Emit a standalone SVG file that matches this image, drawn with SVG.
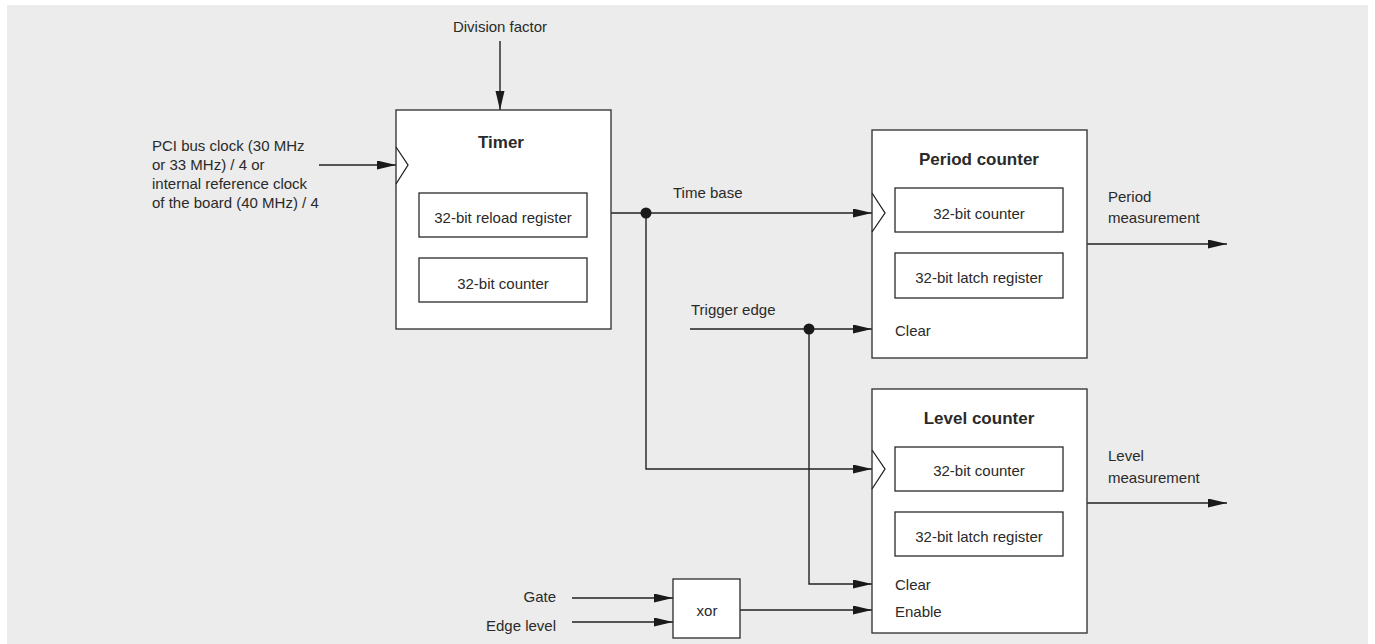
<svg xmlns="http://www.w3.org/2000/svg" width="1375" height="644" viewBox="0 0 1375 644">
<style>
text{font-family:"Liberation Sans",Arial,sans-serif;font-size:15px;fill:#2a2a2a}
.t{font-weight:bold;font-size:17px;text-anchor:middle}
.c{text-anchor:middle}
.e{text-anchor:end}
.box{fill:#fff;stroke:#3a3a3a;stroke-width:1.4}
.in{fill:#fff;stroke:#2a2a2a;stroke-width:1.3}
.w{fill:none;stroke:#222;stroke-width:1.4}
.a{fill:none;stroke:#222;stroke-width:1.4;marker-end:url(#arr)}
.clk{fill:none;stroke:#222;stroke-width:1.3}
</style>
<defs>
<marker id="arr" markerUnits="userSpaceOnUse" markerWidth="20" markerHeight="10" refX="19" refY="4.5" orient="auto">
<path d="M0,0 L19,4.5 L0,9 z" fill="#1a1a1a"/>
</marker>
</defs>
<rect x="7" y="5" width="1361" height="639" fill="#ebeceb"/>

<g id="connectors">
<path class="a" d="M500,41 V110"/>
<path class="a" d="M319,165 H396"/>
<path class="a" d="M611,213 H872"/>
<path class="a" d="M646,213 V469 H872"/>
<path class="a" d="M690,329 H872"/>
<path class="a" d="M809,329 V584 H872"/>
<path class="a" d="M572,598 H673"/>
<path class="a" d="M572,622 H673"/>
<path class="a" d="M740,610 H872"/>
<path class="a" d="M1087,244 H1227"/>
<path class="a" d="M1087,503 H1227"/>
<circle cx="646" cy="213" r="5.5" fill="#1a1a1a"/>
<circle cx="809" cy="329" r="5.5" fill="#1a1a1a"/>
</g>

<g id="labels">
<text class="c" x="500" y="32">Division factor</text>
<text x="152" y="151">PCI bus clock (30 MHz</text>
<text x="152" y="170">or 33 MHz) / 4 or</text>
<text x="152" y="189">internal reference clock</text>
<text x="152" y="208">of the board (40 MHz) / 4</text>
<text x="673" y="198">Time base</text>
<text x="691" y="315">Trigger edge</text>
<text x="1108" y="202">Period</text>
<text x="1108" y="223">measurement</text>
<text x="1108" y="461">Level</text>
<text x="1108" y="483">measurement</text>
<text class="e" x="556" y="602">Gate</text>
<text class="e" x="556" y="631">Edge level</text>
</g>

<g id="timer">
<rect class="box" x="396" y="110" width="215" height="219"/>
<path class="clk" d="M396,147 L408,165 L396,184"/>
<text class="t" x="501" y="148">Timer</text>
<rect class="in" x="419" y="193" width="168" height="44"/>
<text class="c" x="503" y="223">32-bit reload register</text>
<rect class="in" x="419" y="258" width="168" height="44"/>
<text class="c" x="503" y="289">32-bit counter</text>
</g>

<g id="period-counter">
<rect class="box" x="872" y="130" width="215" height="228"/>
<path class="clk" d="M872,193 L885,213 L872,232"/>
<text class="t" x="979" y="165">Period counter</text>
<rect class="in" x="895" y="188" width="168" height="44"/>
<text class="c" x="979" y="219">32-bit counter</text>
<rect class="in" x="895" y="253" width="168" height="45"/>
<text class="c" x="979" y="283">32-bit latch register</text>
<text x="895" y="336">Clear</text>
</g>

<g id="level-counter">
<rect class="box" x="872" y="389" width="215" height="244"/>
<path class="clk" d="M872,450 L885,469 L872,489"/>
<text class="t" x="979" y="424">Level counter</text>
<rect class="in" x="895" y="447" width="168" height="44"/>
<text class="c" x="979" y="476">32-bit counter</text>
<rect class="in" x="895" y="512" width="168" height="44"/>
<text class="c" x="979" y="542">32-bit latch register</text>
<text x="895" y="590">Clear</text>
<text x="895" y="617">Enable</text>
</g>

<g id="xor">
<rect class="in" x="673" y="579" width="67" height="59"/>
<text class="c" x="707" y="616">xor</text>
</g>
</svg>
